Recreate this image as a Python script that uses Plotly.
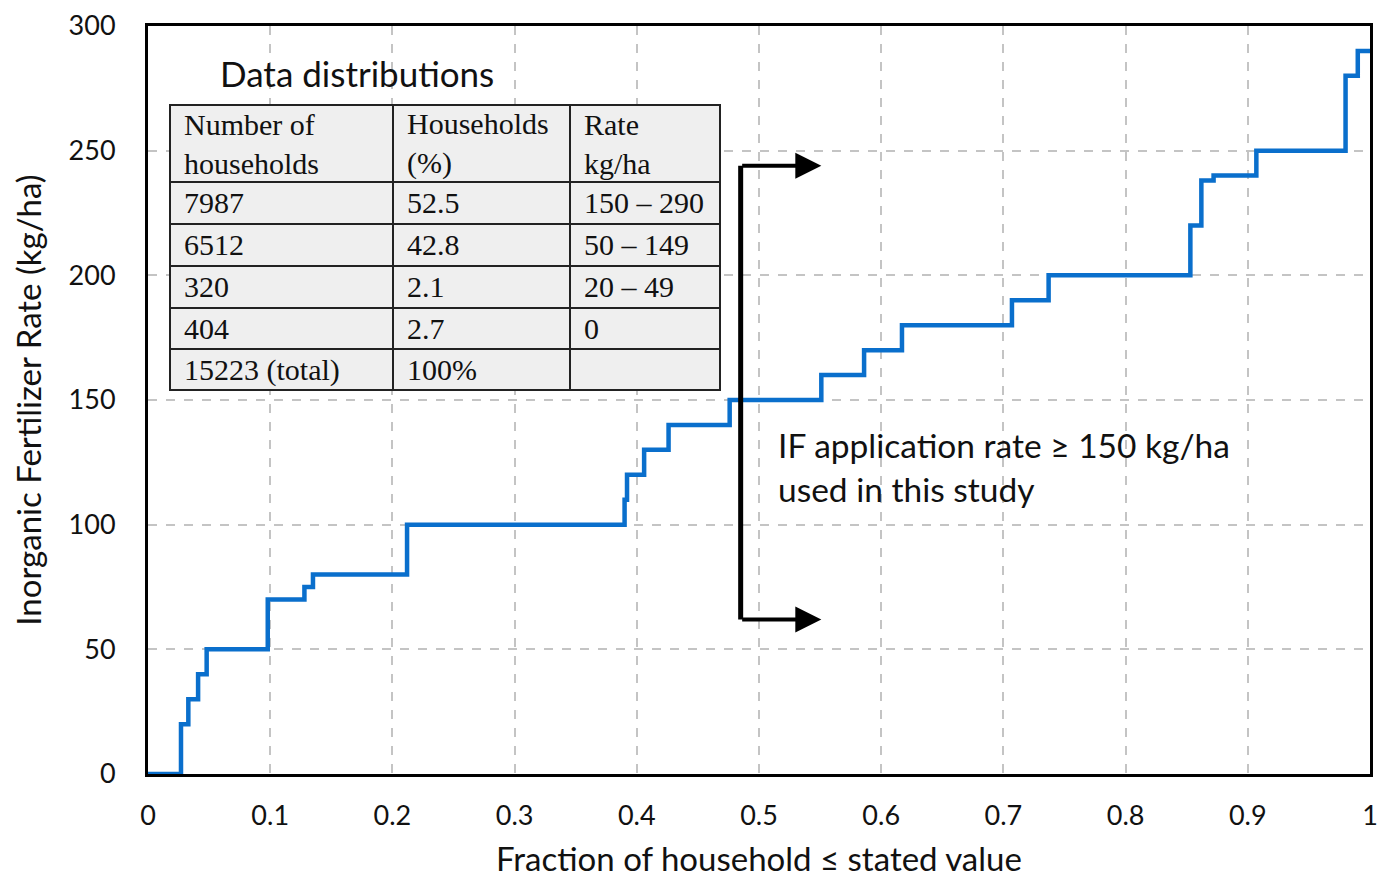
import plotly.graph_objects as go

# ---- data ----
fraction = [0.0, 0.027, 0.033, 0.041, 0.048, 0.098, 0.128, 0.135, 0.212,
            0.390, 0.392, 0.406, 0.426, 0.476, 0.551, 0.586, 0.617, 0.707,
            0.737, 0.853, 0.862, 0.872, 0.907, 0.980, 0.990, 1.0]
rate = [0, 20, 30, 40, 50, 70, 75, 80, 100,
        110, 120, 130, 140, 150, 160, 170, 180, 190,
        200, 220, 238, 240, 250, 280, 290, 290]

x_ticks = [0, 0.1, 0.2, 0.3, 0.4, 0.5, 0.6, 0.7, 0.8, 0.9, 1]
x_tick_labels = ["0", "0.1", "0.2", "0.3", "0.4", "0.5", "0.6", "0.7", "0.8", "0.9", "1"]
y_ticks = [0, 50, 100, 150, 200, 250, 300]

table_header = ["Number of<br>households", "Households<br>(%)", "Rate<br>kg/ha"]
col_households = ["7987", "6512", "320", "404", "15223 (total)"]
col_percent = ["52.5", "42.8", "2.1", "2.7", "100%"]
col_rate = ["150 – 290", "50 – 149", "20 – 49", "0", ""]

threshold_x = 0.485
arrow_top_y = 244
arrow_bottom_y = 62
arrow_tip_x = 0.551
note_text = "IF application rate ≥ 150 kg/ha<br>used in this study"
table_title = "Data distributions"

# ---- layout geometry (page pixels; page body has an 8px margin) ----
OFF = 8
W, H = 1392 - OFF, 878 - OFF
L, R, T, B = 148, 1370, 26, 774
SANS = "Lato"
SERIF = "Liberation Serif"


def px(xp):
    return (xp - L) / (R - L)


def py(yp):
    return (B - yp) / (B - T)


fig = go.Figure()
fig.add_trace(go.Scatter(
    x=fraction, y=rate, mode="lines", line_shape="hv",
    line=dict(color="#0a6fcc", width=4.5), showlegend=False, hoverinfo="skip"))

shapes = []
annotations = []

# table
col_edges = [170, 393, 570, 720]
row_edges = [105, 182, 224, 266, 308, 349, 390]
shapes.append(dict(type="rect", xref="paper", yref="paper",
                   x0=px(col_edges[0]), x1=px(col_edges[-1]),
                   y0=py(row_edges[-1]), y1=py(row_edges[0]),
                   fillcolor="#efefef", line=dict(color="#222", width=2), layer="above"))
for ce in col_edges[1:-1]:
    shapes.append(dict(type="line", xref="paper", yref="paper",
                       x0=px(ce), x1=px(ce), y0=py(row_edges[-1]), y1=py(row_edges[0]),
                       line=dict(color="#222", width=2), layer="above"))
for re_ in row_edges[1:-1]:
    shapes.append(dict(type="line", xref="paper", yref="paper",
                       x0=px(col_edges[0]), x1=px(col_edges[-1]), y0=py(re_), y1=py(re_),
                       line=dict(color="#222", width=2), layer="above"))

pad = 12
for ci, htxt in enumerate(table_header):
    annotations.append(dict(xref="paper", yref="paper", x=px(col_edges[ci] + pad),
                            y=py((row_edges[0] + row_edges[1]) / 2), text=htxt,
                            showarrow=False, xanchor="left", yanchor="middle", align="left",
                            font=dict(family=SERIF, size=30, color="#111")))
columns = [col_households, col_percent, col_rate]
for ci, col in enumerate(columns):
    for ri, txt in enumerate(col):
        if not txt:
            continue
        annotations.append(dict(xref="paper", yref="paper", x=px(col_edges[ci] + pad),
                                y=py((row_edges[ri + 1] + row_edges[ri + 2]) / 2), text=txt,
                                showarrow=False, xanchor="left", yanchor="middle",
                                font=dict(family=SERIF, size=30, color="#111")))

annotations.append(dict(xref="paper", yref="paper", x=px(218), y=py(73), text=table_title,
                        showarrow=False, xanchor="left", yanchor="middle",
                        font=dict(family=SANS, size=35, color="#111")))

# threshold bracket
shapes.append(dict(type="line", xref="x", yref="y", x0=threshold_x, x1=threshold_x,
                   y0=arrow_bottom_y, y1=arrow_top_y, line=dict(color="black", width=5),
                   layer="above"))
for yv in (arrow_top_y, arrow_bottom_y):
    annotations.append(dict(xref="x", yref="y", axref="x", ayref="y",
                            x=arrow_tip_x, y=yv, ax=threshold_x, ay=yv, text="",
                            showarrow=True, arrowhead=2, arrowsize=1.3, arrowwidth=4,
                            arrowcolor="black", standoff=0))

annotations.append(dict(xref="paper", yref="paper", x=px(776), y=py(467), text=note_text,
                        showarrow=False, xanchor="left", yanchor="middle", align="left",
                        font=dict(family=SANS, size=33.5, color="#111")))

fig.update_layout(
    width=W, height=H,
    margin=dict(l=L - OFF, r=W - (R - OFF), t=T - OFF, b=H - (B - OFF), autoexpand=False),
    paper_bgcolor="white", plot_bgcolor="white",
    shapes=shapes, annotations=annotations,
    font=dict(family=SANS, color="#111"),
    xaxis=dict(range=[0, 1], tickvals=x_ticks, ticktext=x_tick_labels,
               showgrid=True, gridcolor="#c4c4c4", griddash="dash", gridwidth=1.5,
               showline=True, linecolor="black", linewidth=3, mirror=True,
               ticks="", ticklabelstandoff=16,
               tickfont=dict(size=27, family=SANS, color="#111"),
               title=dict(text="Fraction of household ≤ stated value",
                          font=dict(size=33, family=SANS, color="#111"), standoff=18),
               zeroline=False),
    yaxis=dict(range=[0, 300], tickvals=y_ticks,
               showgrid=True, gridcolor="#c4c4c4", griddash="dash", gridwidth=1.5,
               showline=True, linecolor="black", linewidth=3, mirror=True,
               ticks="", ticklabelstandoff=24,
               tickfont=dict(size=27, family=SANS, color="#111"),
               title=dict(text="Inorganic Fertilizer Rate (kg/ha)",
                          font=dict(size=33, family=SANS, color="#111"), standoff=28),
               zeroline=False),
)

fig.write_html("out.html")
